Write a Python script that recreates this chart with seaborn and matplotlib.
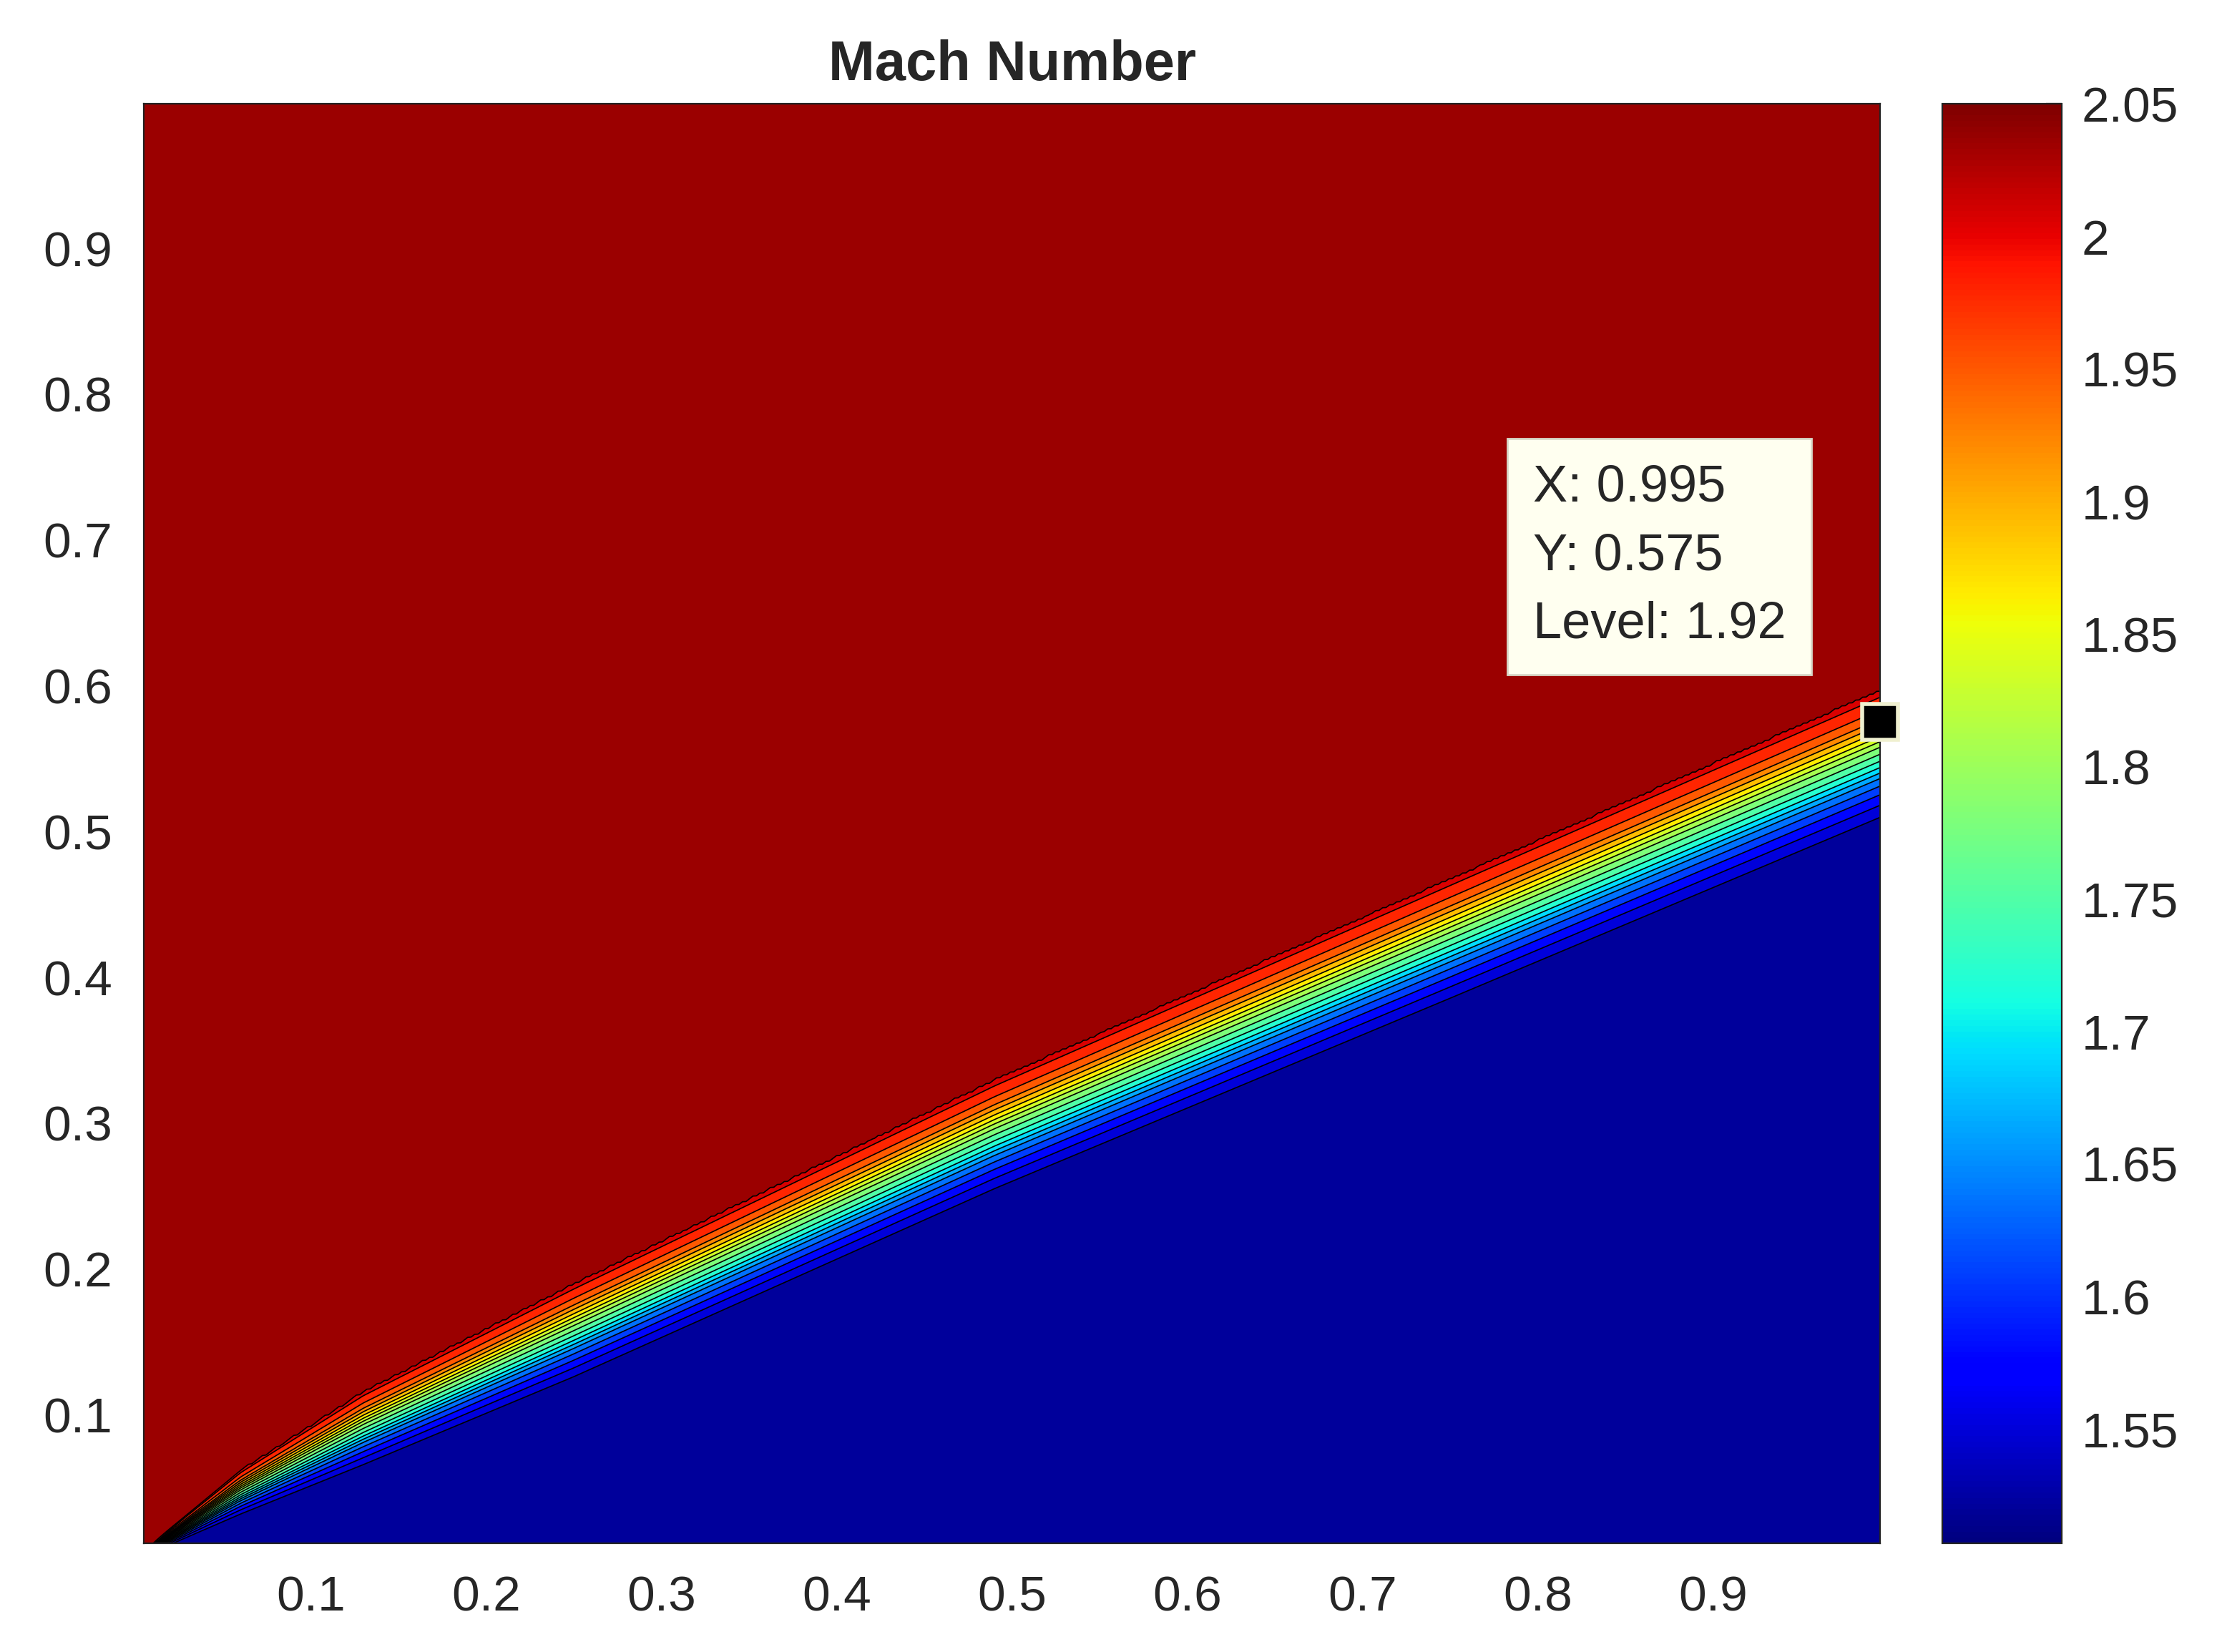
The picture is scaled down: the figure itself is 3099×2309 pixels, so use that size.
import numpy as np
import matplotlib
matplotlib.use("Agg")
import matplotlib.pyplot as plt
import seaborn as sns

sns.set_style("white")
plt.rcParams['font.family'] = ['Liberation Sans', 'DejaVu Sans']

# Fan edges (upper = start of expansion, lower = end)
edge_x = [0.0, 0.02, 0.06, 0.13, 0.25, 0.49, 0.75, 1.0]
upper_y = [0.0, 0.022, 0.062, 0.116, 0.190, 0.330, 0.468, 0.600]
lower_y = [0.0, 0.010, 0.029, 0.061, 0.120, 0.248, 0.378, 0.504]
# Mach number across the fan (fraction from upper edge to lower edge)
fan_frac = [0.0, 0.001, 0.19, 0.31, 0.40, 0.54, 0.65, 0.78, 1.0]
fan_mach = [2.05, 2.01, 1.95, 1.87, 1.80, 1.72, 1.64, 1.58, 1.507]
x_ticks = [0.1, 0.2, 0.3, 0.4, 0.5, 0.6, 0.7, 0.8, 0.9]
y_ticks = [0.1, 0.2, 0.3, 0.4, 0.5, 0.6, 0.7, 0.8, 0.9]
cbar_ticks = [1.55, 1.6, 1.65, 1.7, 1.75, 1.8, 1.85, 1.9, 1.95, 2.0, 2.05]
cbar_labels = ["1.55", "1.6", "1.65", "1.7", "1.75", "1.8", "1.85", "1.9", "1.95", "2", "2.05"]
dt_x, dt_y, dt_level = 0.995, 0.575, 1.92

x = np.linspace(0.005, 0.995, 500)
y = np.linspace(0.012, 0.999, 500)
X, Y = np.meshgrid(x, y)
U = np.interp(X, edge_x, upper_y)
L = np.interp(X, edge_x, lower_y)
T = (U - Y) / (U - L)
M = np.interp(T, fan_frac, fan_mach, left=fan_mach[0], right=fan_mach[-1])

fig = plt.figure(figsize=(15.495, 11.545), dpi=200)
ax = fig.add_axes([0.065, 0.066, 0.783, 0.871])
cax = fig.add_axes([0.876, 0.066, 0.054, 0.871])

levels = np.linspace(1.507, 2.05, 20)
ax.contourf(X, Y, M, levels=levels, cmap="jet", vmin=1.507, vmax=2.05)
ax.contour(X, Y, M, levels=levels[1:-1], colors="k", linewidths=0.6)
ax.set_xlim(0.005, 0.995)
ax.set_ylim(0.012, 0.999)
ax.set_xticks(x_ticks)
ax.set_yticks(y_ticks)
ax.set_xticklabels([f"{t:g}" for t in x_ticks])
ax.set_yticklabels([f"{t:g}" for t in y_ticks])
ax.tick_params(labelsize=25, direction="in", length=0, pad=16)
for s in ax.spines.values():
    s.set_color("#222222")
ax.set_title("Mach Number", fontsize=28, fontweight="bold", pad=12)

sm = matplotlib.cm.ScalarMappable(norm=matplotlib.colors.Normalize(1.507, 2.05), cmap="jet")
cb = fig.colorbar(sm, cax=cax)
cb.set_ticks(cbar_ticks)
cb.set_ticklabels(cbar_labels)
cb.ax.tick_params(labelsize=25, direction="in", length=8, pad=10)
cb.outline.set_edgecolor("#222222")

ax.plot([dt_x], [dt_y], marker="s", markersize=18, color="black",
        markeredgecolor="#f0f0d0", markeredgewidth=2, clip_on=False, zorder=10)
ax.text(0.797, 0.752, f"X: {dt_x}\nY: {dt_y}\nLevel: {dt_level}", fontsize=26,
        va="top", ha="left", linespacing=1.55, zorder=11,
        bbox=dict(boxstyle="square,pad=0.5", fc="#fffff0", ec="#d8d8c8"))

fig.savefig("out.png", dpi=200)
